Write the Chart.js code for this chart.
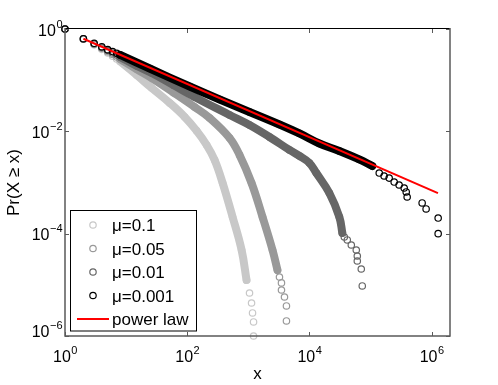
<!DOCTYPE html>
<html><head><meta charset="utf-8">
<script src="https://cdn.jsdelivr.net/npm/chart.js@4.4.0/dist/chart.umd.min.js"></script>
<style>html,body{margin:0;padding:0;background:#fff}canvas{display:block}</style>
</head><body>
<canvas id="c" width="498" height="385"></canvas>
<script>
// ---------- data ----------
const seriesLabels = ['\u03bc=0.1', '\u03bc=0.05', '\u03bc=0.01', '\u03bc=0.001'];
const powerLawLabel = 'power law';
const xAxisLabel = 'x';
const yAxisLabel = 'Pr(X \u2265 x)';

const mu01X = [1,2,3,4,5,6,7,8,15,26.3,51.8,91,143,208,281,380,553,776,936,1047,1130,1173,1219,1219];
const mu01Y = [1,0.63,0.49,0.40,0.34,0.295,0.26,0.232,0.125,0.0703,0.0358,0.0191,0.0102,0.00541,0.00275,0.000978,0.000212,4.8e-5,1.24e-5,6.93e-6,4.42e-6,2.82e-6,1.88e-6,1e-6];
const mu01Dense = [7, 18];

const mu005X = [1,2,3,4,5,6,7,8,15,26.3,60,132,233,494,719,1130,1710,2490,3000,3236,3490,3490,3910,4210,4210];
const mu005Y = [1,0.635,0.505,0.42,0.36,0.318,0.285,0.258,0.163,0.110,0.057,0.0299,0.0182,0.00741,0.00345,0.000978,0.000212,4.8e-5,1.95e-5,1.42e-5,1.09e-5,7.93e-6,5.79e-6,3.87e-6,1.97e-6];
const mu005Dense = [7, 18];

const mu001X = [1,2,3,4,5,6,7,8,15,26.3,60,132,494,1047,2222,4710,6870,10000,13000,21200,30900,34600,37300,41700,48500,58500,60800,60800,70600,73300];
const mu001Y = [1,0.64,0.515,0.435,0.38,0.34,0.31,0.285,0.189,0.138,0.0794,0.0469,0.0209,0.0133,0.00775,0.00432,0.0033,0.00241,0.00153,0.000623,0.000212,0.000103,8.61e-5,7.53e-5,6.01e-5,4.8e-5,3.66e-5,2.92e-5,2.04e-5,9.5e-6];
const mu001Dense = [7, 21];

const mu0001X = [1,2,3,4,5,6,7,8,24.4,110,340,1047,3236,6870,14560,30900,65500,107000,139000,167000,202000,244000,294000,356000,384000,398000,700000,813000,1280000,1280000];
const mu0001Y = [1,0.646,0.526,0.451,0.395,0.362,0.334,0.311,0.169,0.0752,0.0419,0.0239,0.0136,0.00908,0.00578,0.00413,0.00282,0.0021,0.00153,0.00134,0.00122,0.00102,0.000893,0.000781,0.000653,0.000521,0.000398,0.000304,0.000202,0.0001];
const mu0001Dense = [7, 17];

const powerLawX = [2, 1.27e6];
const powerLawY = [0.646, 6.2e-4];

const xTickValues = [1, 1e2, 1e4, 1e6];
const xTickExponents = ['0', '2', '4', '6'];
const yTickValues = [1, 1e-2, 1e-4, 1e-6];
const yTickExponents = ['0', '\u22122', '\u22124', '\u22126'];

// ---------- build datasets ----------
const seriesColors = ['#c8c8c8', '#999999', '#666666', '#000000'];
const seriesData = [
  [mu01X, mu01Y, mu01Dense],
  [mu005X, mu005Y, mu005Dense],
  [mu001X, mu001Y, mu001Dense],
  [mu0001X, mu0001Y, mu0001Dense]
];
function toPoints(xs, ys) { return xs.map((v, i) => ({ x: v, y: ys[i] })); }

const datasets = [];
seriesData.forEach(([xs, ys, dense], i) => {
  const pts = toPoints(xs, ys);
  const ord = 4 - i + 1;
  datasets.push({
    label: seriesLabels[i] + ' band', legendEntry: false,
    data: pts.slice(dense[0], dense[1] + 1),
    showLine: true, borderColor: seriesColors[i], borderWidth: 8,
    borderCapStyle: 'round', borderJoinStyle: 'round',
    tension: 0.4, pointRadius: 0, fill: false,
    clip: false, order: ord
  });
  datasets.push({
    label: seriesLabels[i], legendEntry: 'marker',
    data: pts, showLine: false,
    pointRadius: 3.2, pointBorderWidth: 1.2,
    pointBorderColor: seriesColors[i], pointBackgroundColor: 'rgba(0,0,0,0)',
    borderColor: seriesColors[i], clip: false, order: ord
  });
});
datasets.push({
  label: powerLawLabel, legendEntry: 'line',
  data: toPoints(powerLawX, powerLawY), showLine: true,
  borderColor: '#ff0000', borderWidth: 2, pointRadius: 0, fill: false, order: 0
});

const FONT = '"Liberation Sans", Arial, Helvetica, sans-serif';

const matlabAxes = {
  id: 'matlabAxes',
  afterDraw(chart) {
    const { ctx, chartArea: a, scales } = chart;
    const xs = scales.x, ys = scales.y;
    ctx.save();
    // axes box
    ctx.lineWidth = 1;
    ctx.strokeStyle = '#000';
    ctx.beginPath(); ctx.moveTo(a.left, a.top - 0.5); ctx.lineTo(a.right, a.top - 0.5); ctx.stroke();
    ctx.strokeStyle = '#5a5a5a';
    ctx.lineWidth = 1.5;
    ctx.beginPath();
    ctx.moveTo(a.left, a.top - 1); ctx.lineTo(a.left, a.bottom);
    ctx.lineTo(a.right, a.bottom); ctx.lineTo(a.right, a.top - 1);
    ctx.stroke();
    // inward ticks
    const tl = 4;
    ctx.lineWidth = 1;
    ctx.beginPath();
    xTickValues.forEach(v => {
      const px = Math.round(xs.getPixelForValue(v)) + 0.5;
      ctx.moveTo(px, a.bottom); ctx.lineTo(px, a.bottom - tl);
      ctx.moveTo(px, a.top); ctx.lineTo(px, a.top + tl);
    });
    yTickValues.forEach(v => {
      const py = Math.round(ys.getPixelForValue(v)) + 0.5;
      ctx.moveTo(a.left, py); ctx.lineTo(a.left + tl, py);
      ctx.moveTo(a.right, py); ctx.lineTo(a.right - tl, py);
    });
    ctx.stroke();

    // tick labels 10^n
    const baseFont = '16px ' + FONT, expFont = '11px ' + FONT;
    ctx.fillStyle = '#000';
    ctx.textBaseline = 'alphabetic';
    ctx.textAlign = 'left';
    function measure(exp) {
      ctx.font = baseFont; const w1 = ctx.measureText('10').width;
      ctx.font = expFont; const w2 = ctx.measureText(exp).width;
      return [w1, w2];
    }
    function drawPow(exp, left, base) {
      const [w1] = measure(exp);
      ctx.font = baseFont; ctx.fillText('10', left, base);
      ctx.font = expFont; ctx.fillText(exp, left + w1 + 0.5, base - 8);
    }
    xTickValues.forEach((v, i) => {
      const px = xs.getPixelForValue(v);
      const [w1, w2] = measure(xTickExponents[i]);
      drawPow(xTickExponents[i], px - (w1 + w2) / 2, a.bottom + 26);
    });
    yTickValues.forEach((v, i) => {
      const py = ys.getPixelForValue(v);
      const [w1, w2] = measure(yTickExponents[i]);
      const base = Math.min(py + 6.5, a.bottom + 1);
      drawPow(yTickExponents[i], a.left - 3 - (w1 + w2), base);
    });

    // axis titles
    ctx.font = '17px ' + FONT;
    ctx.textAlign = 'center';
    ctx.fillText(xAxisLabel, (a.left + a.right) / 2, 379);
    ctx.save();
    ctx.translate(19, (a.top + a.bottom) / 2);
    ctx.rotate(-Math.PI / 2);
    ctx.fillText(yAxisLabel, 0, 0);
    ctx.restore();

    // legend
    const entries = chart.data.datasets.filter(d => d.legendEntry);
    const lx = 70.5, ly = 210.5, lw = 126, lh = 120.5;
    ctx.fillStyle = '#fff';
    ctx.fillRect(lx, ly, lw, lh);
    ctx.strokeStyle = '#000'; ctx.lineWidth = 1;
    ctx.strokeRect(lx, ly, lw, lh);
    ctx.font = '17px ' + FONT;
    ctx.textAlign = 'left';
    entries.forEach((d, i) => {
      const cy = 225 + i * 23.5;
      if (d.legendEntry === 'marker') {
        ctx.strokeStyle = d.pointBorderColor; ctx.lineWidth = 1.2;
        ctx.beginPath(); ctx.arc(93, cy, 3.2, 0, Math.PI * 2); ctx.stroke();
      } else {
        ctx.strokeStyle = d.borderColor; ctx.lineWidth = 2;
        ctx.beginPath(); ctx.moveTo(77, cy); ctx.lineTo(109, cy); ctx.stroke();
      }
      ctx.fillStyle = '#000';
      ctx.fillText(d.label, 112, cy + 6);
    });
    ctx.restore();
  }
};

new Chart(document.getElementById('c'), {
  type: 'scatter',
  data: { datasets },
  options: {
    responsive: false, animation: false, events: [],
    layout: { padding: { left: 0, top: 29, right: 48, bottom: 0 } },
    plugins: { legend: { display: false }, tooltip: { enabled: false } },
    scales: {
      x: {
        type: 'logarithmic', min: 1, max: 2e6,
        ticks: { display: false }, grid: { display: false }, border: { display: false },
        afterFit: s => { s.height = 49; }
      },
      y: {
        type: 'logarithmic', min: 1e-6, max: 1,
        ticks: { display: false }, grid: { display: false }, border: { display: false },
        afterFit: s => { s.width = 65; }
      }
    }
  },
  plugins: [matlabAxes]
});
</script>
</body></html>
